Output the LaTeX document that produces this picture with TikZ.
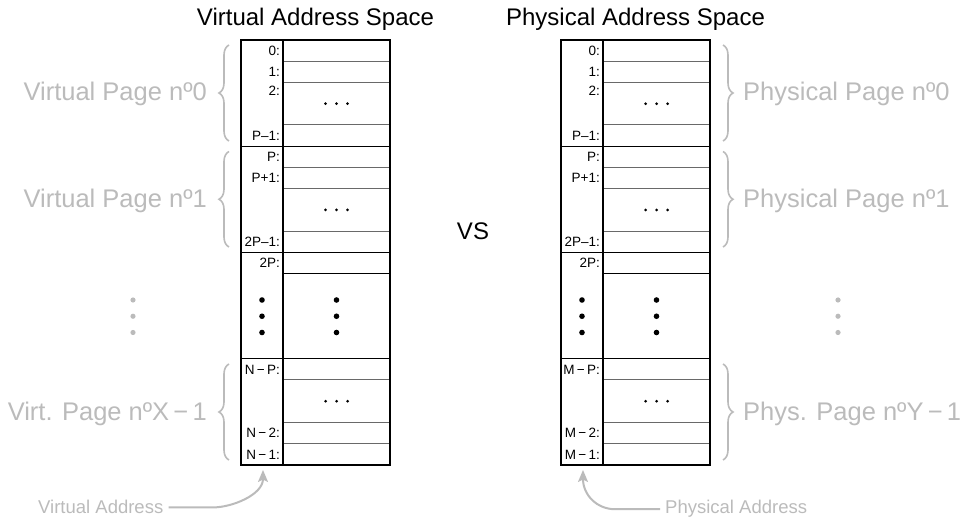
\documentclass[tikz,border=0pt]{standalone}
\usepackage{fontspec}
\setmainfont{Liberation Sans}
\usetikzlibrary{decorations.pathreplacing,arrows.meta}
\definecolor{lite}{RGB}{187,187,187}
\definecolor{rowc}{RGB}{105,105,105}
\tikzset{
  outer/.style={line width=2pt, draw=black},
  divline/.style={line width=1.2pt, draw=black},
  rowline/.style={line width=1pt, draw=rowc},
  pageline/.style={line width=1.4pt, draw=black},
  addr/.style={anchor=base east, inner sep=0pt, font=\fontsize{13.5}{15}\selectfont},
  titletext/.style={anchor=base, inner sep=0pt, font=\fontsize{24}{28}\selectfont},
  pagelbl/.style={text=lite, inner sep=0pt, font=\fontsize{25.5}{30}\selectfont},
  addrlbl/.style={text=lite, inner sep=0pt, anchor=base west, font=\fontsize{18.5}{22}\selectfont},
  brc/.style={draw=lite, line width=1.6pt, decorate, decoration={brace, amplitude=10pt}},
  garrow/.style={draw=lite, line width=2pt, -{Stealth[length=12pt,width=10pt,inset=2.5pt]}},
}
\newcommand\smalldots[2]{%
  \fill (#1-11,#2) circle (1.5pt) (#1,#2) circle (1.5pt) (#1+11,#2) circle (1.5pt);}
\newcommand\bigdots[1]{%
  \fill (#1,300) circle (2.8pt) (#1,316.25) circle (2.8pt) (#1,332.5) circle (2.8pt);}
\newcommand\addrtable[3]{%
\begin{scope}[xshift=#1pt]
  \draw[rowline] (283,61.25) -- (390,61.25) (283,82.5) -- (390,82.5) (283,125) -- (390,125)
     (283,167.5) -- (390,167.5) (283,188.75) -- (390,188.75) (283,231.25) -- (390,231.25)
     (283,380) -- (390,380) (283,422.5) -- (390,422.5) (283,443.75) -- (390,443.75);
  \draw[pageline] (241,146.25) -- (390,146.25) (241,252.5) -- (390,252.5)
     (241,358.75) -- (390,358.75) (283,273.75) -- (390,273.75);
  \draw[divline] (283,40) -- (283,465);
  \draw[outer] (241,40) rectangle (390,465);
  \node[addr] (#2a0) at (280,55.3) {0:};
  \node[addr] (#2a1) at (280,76.6) {1:};
  \node[addr] (#2a2) at (280,96) {2:};
  \node[addr] (#2a3) at (280,140.3) {P–1:};
  \node[addr] (#2a4) at (280,161.6) {P:};
  \node[addr] (#2a5) at (280,182.8) {P+1:};
  \node[addr] (#2a6) at (280,246.7) {2P–1:};
  \node[addr] (#2a7) at (280,267.8) {2P:};
  \node[addr] (#2a8) at (280,374.1) {#3\,−\,P:};
  \node[addr] (#2a9) at (280,437.8) {#3\,−\,2:};
  \node[addr] (#2a10) at (280,459.1) {#3\,−\,1:};
  \smalldots{336.5}{103.75}
  \smalldots{336.5}{210}
  \smalldots{336.5}{401.25}
  \bigdots{262}
  \bigdots{336.5}
\end{scope}}
\begin{document}
\begin{tikzpicture}[x=1pt,y=-1pt]
  \useasboundingbox (0,0) rectangle (962,518);
  \addrtable{0}{v}{N}
  \addrtable{320}{p}{M}
  % titles
  \node[titletext] (vtitle) at (315.5,26) {Virtual Address Space};
  \node[titletext] (ptitle) at (635.5,26) {Physical Address Space};
  \node[titletext, anchor=center] (vs) at (473,231) {VS};
  % left page labels
  \node[pagelbl, anchor=base east] (vp0) at (207,101) {Virtual Page nº0};
  \node[pagelbl, anchor=base east] (vp1) at (207,208) {Virtual Page nº1};
  \node[pagelbl, anchor=base east] (vpx) at (207,420.5) {Virt. Page nºX\,−\,1};
  \draw[brc] (229,141) -- (229,45);
  \draw[brc] (229,247) -- (229,151.5);
  \draw[brc] (229,460) -- (229,364);
  % right page labels
  \node[pagelbl, anchor=base west] (pp0) at (743,101) {Physical Page nº0};
  \node[pagelbl, anchor=base west] (pp1) at (743,208) {Physical Page nº1};
  \node[pagelbl, anchor=base west] (ppy) at (743,420.5) {Phys. Page nºY\,−\,1};
  \draw[brc] (723,45) -- (723,141);
  \draw[brc] (723,151.5) -- (723,247);
  \draw[brc] (723,364) -- (723,460);
  % gray vertical dots
  \fill[lite] (133,300) circle (2.6pt) (133,316.25) circle (2.6pt) (133,332.5) circle (2.6pt);
  \fill[lite] (838,300) circle (2.6pt) (838,316.25) circle (2.6pt) (838,332.5) circle (2.6pt);
  % address arrows
  \node[addrlbl] (va) at (38,514) {Virtual Address};
  \node[addrlbl] (pa) at (665,514) {Physical Address};
  \coordinate (vtip) at (263,470);
  \coordinate (ptip) at (583,470);
  \draw[garrow] ([xshift=5pt]va.east) -- ++(45,0) .. controls +(18,0) and +(0,25) .. (vtip);
  \draw[garrow] ([xshift=-5pt]pa.west) -- ++(-45,0) .. controls +(-18,0) and +(0,25) .. (ptip);
\end{tikzpicture}
\end{document}
